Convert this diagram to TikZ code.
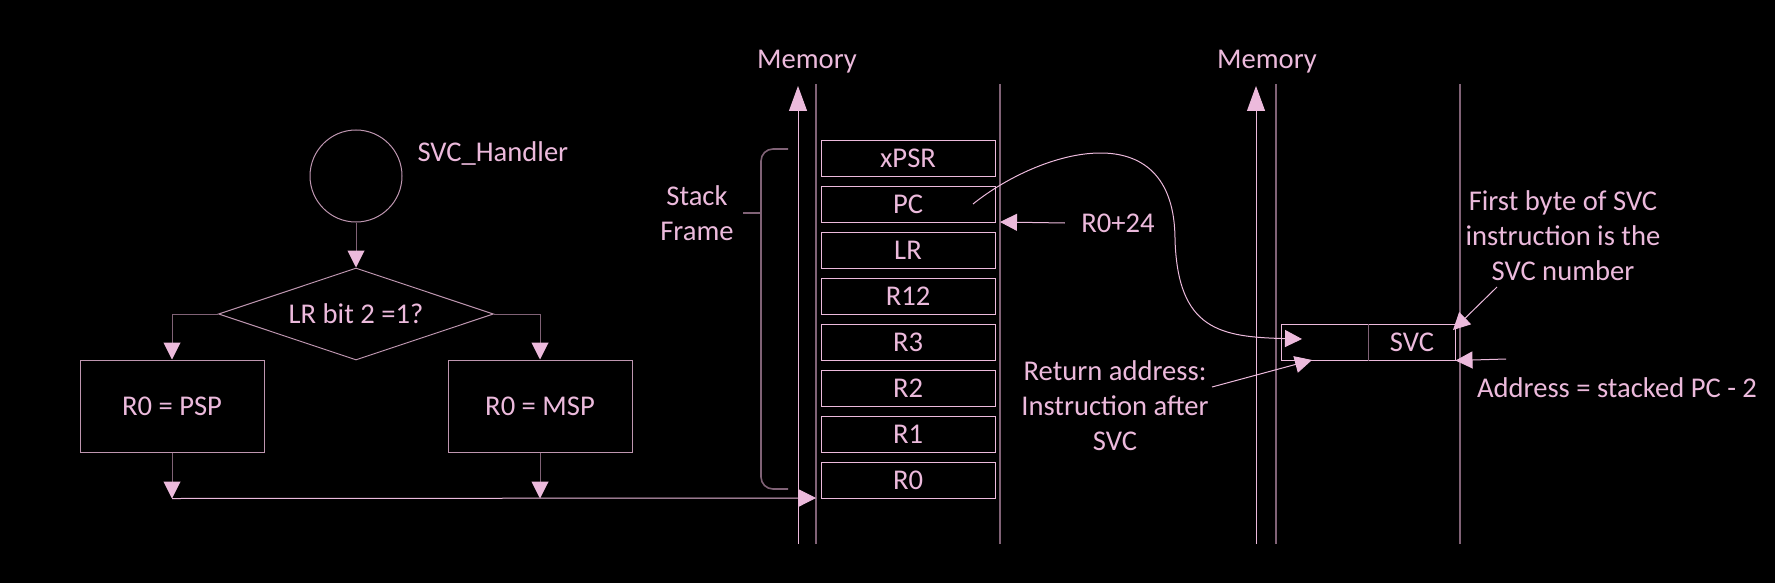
\documentclass[tikz,border=0pt]{standalone}
\usepackage{fontspec}
\setmainfont{Carlito}
\definecolor{lite}{RGB}{236, 186, 220}
\definecolor{mid}{RGB}{190, 150, 176}
\definecolor{dim}{RGB}{128, 98, 118}
\usetikzlibrary{shapes.geometric, arrows.meta, positioning, calc}

\begin{document}
\begin{tikzpicture}[x=0.5pt, y=-0.5pt, line width=0.5pt,
        every node/.style={font=\fontsize{14.3}{17.5}\selectfont, text=lite, inner sep=0pt},
        tip/.style={-{Triangle[length=8.5pt, width=8.5pt, color=lite]}},
        bigtip/.style={-{Triangle[length=12.5pt, width=9pt, color=lite]}},
        reg/.style={draw=lite, minimum width=87pt, minimum height=18pt},
        flow/.style={draw=mid}]
            \fill[black] (0,0) rectangle (1775,583);
            \useasboundingbox (0,0) rectangle (1775,583);
            \node[flow, circle, minimum size=46pt] (start) at (356,176) {};
            \node[anchor=west] (hname) at (417,153) {SVC\_Handler};
            \node[flow, diamond, aspect=3, minimum width=137.5pt, minimum height=46pt] (test) at (356,314) {LR bit 2 =1?};
            \node[flow, minimum width=92pt, minimum height=46pt] (psp) at (172,406) {R0 = PSP};
            \node[flow, minimum width=92pt, minimum height=46pt] (msp) at (540,406) {R0 = MSP};
            \draw[dim, tip] (start) -- (test);
            \draw[dim, tip] (test.west) -| (psp.north);
            \draw[dim, tip] (test.east) -| (msp.north);
            \node (mem1) at (807,62) {Memory};
            \node (mem2) at (1267,62) {Memory};
            \draw[dim, line width=1pt] (816,84) -- (816,544) (1000,84) -- (1000,544);
            \draw[dim, line width=1pt] (1276,84) -- (1276,544) (1460,84) -- (1460,544);
            \coordinate (up1lo) at (798,544);
            \coordinate (up1hi) at (798,86);
            \coordinate (up2lo) at (1256,544);
            \coordinate (up2hi) at (1256,86);
            \draw[lite, bigtip] (up1lo) -- (up1hi);
            \draw[lite, bigtip] (up2lo) -- (up2hi);
            \foreach \r [count=\i from 0] in {xPSR,PC,LR,R12,R3,R2,R1,R0}
                \node[reg] (\r) at (908,158+46*\i) {\r};
            \coordinate (merge) at (psp.south |- R0.south);
            \coordinate (memin) at (816,498);
            \draw[dim, tip] (psp.south) -- (merge);
            \draw[dim, tip] (msp.south) -- (msp.south |- R0.south);
            \draw[lite, tip] (merge) -- (memin);
            \draw[dim, line width=0.8pt, rounded corners=6pt] (788,149) -- (761,149) -- (761,489) -- (788,489);
            \draw[dim, line width=0.8pt] (743,213) -- (761,213);
            \node[align=center] (frame) at (697,213) {Stack\\Frame};
            \node (off) at (1118,223) {R0+24};
            \coordinate (offtip) at (1000,222);
            \draw[lite, tip] ([xshift=-8pt]off.west) -- (offtip);
            \node[reg] (slot) at (1368,342) {};
            \draw[dim] (slot.north) -- (slot.south);
            \node (svc) at (1412,342) {SVC};
            \coordinate (pcin) at (973,204);
            \coordinate (retin) at (1302,339);
            \draw[lite, tip] (pcin) .. controls (1040,150) and (1175,110) .. (1175,240)
                .. controls (1178,330) and (1220,337) .. (retin);
            \node[align=center] (retnote) at (1115,406) {Return address:\\Instruction after\\SVC};
            \coordinate (retfrom) at (1212,387);
            \coordinate (retaddr) at (1312,360);
            \draw[lite, tip] (retfrom) -- (retaddr);
            \node[align=center] (firstnote) at (1563,236) {First byte of SVC\\instruction is the\\SVC number};
            \coordinate (firstfrom) at (1497,287);
            \coordinate (firsttip) at (1453,330);
            \draw[lite, tip] (firstfrom) -- (firsttip);
            \node (addrnote) at (1617,388) {Address = stacked PC - 2};
            \coordinate (addrfrom) at (1506,359);
            \draw[lite, tip] (addrfrom) -- (slot.south east);
        \end{tikzpicture}
\end{document}
